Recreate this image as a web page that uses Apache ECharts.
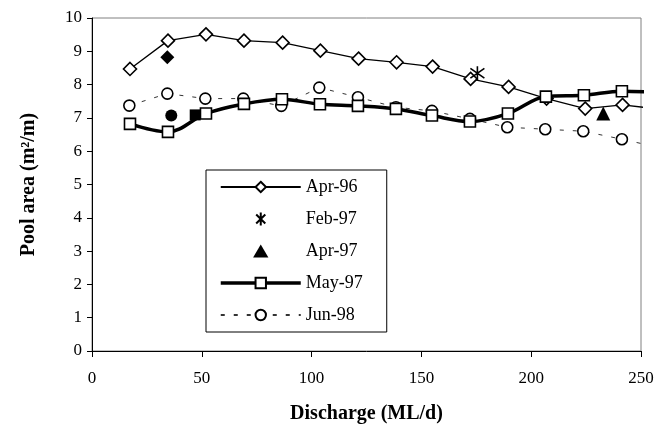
<!DOCTYPE html>
<html><head><meta charset="utf-8">
<script src="https://cdn.jsdelivr.net/npm/echarts@6/dist/echarts.min.js"></script>
<style>html,body{margin:0;padding:0;background:#fff}#c{width:660px;height:433px}</style>
</head><body><div id="c"></div>
<script>
const xApr96 = [17.3, 34.6, 51.9, 69.2, 86.8, 104.0, 121.4, 138.7, 155.1, 172.4, 189.7, 207.0, 224.6, 241.6, 259.0];
const yApr96 = [8.47, 9.32, 9.51, 9.32, 9.26, 9.02, 8.78, 8.67, 8.54, 8.17, 7.93, 7.58, 7.28, 7.39, 7.26];
const xFeb97 = [175.5];
const yFeb97 = [8.34];
const xApr97 = [232.8];
const yApr97 = [7.13];
const xMay97 = [17.3, 34.6, 51.9, 69.2, 86.5, 103.8, 121.1, 138.4, 154.8, 172.1, 189.4, 206.7, 224.0, 241.3, 259.0];
const yMay97 = [6.82, 6.58, 7.13, 7.42, 7.56, 7.41, 7.36, 7.27, 7.07, 6.89, 7.13, 7.64, 7.68, 7.80, 7.76];
const xJun98 = [17.0, 34.3, 51.6, 68.9, 86.2, 103.5, 121.1, 138.4, 154.8, 172.1, 189.1, 206.4, 223.7, 241.3, 259.0];
const yJun98 = [7.37, 7.73, 7.58, 7.58, 7.36, 7.91, 7.62, 7.32, 7.21, 6.97, 6.72, 6.66, 6.60, 6.36, 6.10];
const xExtraDiamond = [34.3], yExtraDiamond = [8.82];
const xExtraCircle = [36.1], yExtraCircle = [7.07];
const xExtraSquare = [47.0], yExtraSquare = [7.09];
const legendNames = ['Apr-96', 'Feb-97', 'Apr-97', 'May-97', 'Jun-98'];
const xTicks = [0, 50, 100, 150, 200, 250];
const yTicks = [0,1,2,3,4,5,6,7,8,9,10];

const zip = (xs, ys) => xs.map((x, i) => [x, ys[i]]);
const F = 'Liberation Serif, Times New Roman, serif';
const asterisk = 'path://M10,0L10,20M3,3L17,17M3,17L17,3';
const tri = 'path://M0,17L10,0L20,17Z';

function legendItem(n) {
  if (n === 'Apr-97') return {name: n, icon: tri};
  if (n === 'May-97') return {name: n, lineStyle: {width: 3.5, color: '#000'}};
  return {name: n};
}

const chart = echarts.init(document.getElementById('c'));
chart.setOption({
  animation: false,
  backgroundColor: '#fff',
  textStyle: {fontFamily: F},
  grid: {left: 92, right: 19, top: 18, bottom: 82, show: true, borderColor: '#808080', borderWidth: 1},
  legend: {
    data: legendNames.map(legendItem),
    orient: 'vertical', left: 206, top: 170,
    padding: [8, 24, 8, 13], itemGap: 14, itemWidth: 80, itemHeight: 13,
    borderColor: '#000', borderWidth: 1, backgroundColor: '#fff',
    textStyle: {fontFamily: F, fontSize: 18, color: '#000'},
  },
  xAxis: {
    type: 'value', min: 0, max: 250, interval: 50,
    name: 'Discharge (ML/d)', nameLocation: 'middle', nameGap: 53,
    nameTextStyle: {fontFamily: F, fontSize: 20, fontWeight: 'bold', color: '#000'},
    axisLine: {lineStyle: {color: '#000', width: 1}},
    axisTick: {show: true, length: 6, lineStyle: {color: '#000'}},
    axisLabel: {fontFamily: F, fontSize: 17, color: '#000', margin: 19,
      formatter: v => xTicks.includes(v) ? String(v) : ''},
    splitLine: {show: false}
  },
  yAxis: {
    type: 'value', min: 0, max: 10, interval: 1,
    name: 'Pool area (m²/m)', nameLocation: 'middle', nameGap: 53,
    nameTextStyle: {fontFamily: F, fontSize: 20, fontWeight: 'bold', color: '#000'},
    axisLine: {show: true, lineStyle: {color: '#000', width: 1}},
    axisTick: {show: true, length: 5, lineStyle: {color: '#000'}},
    axisLabel: {fontFamily: F, fontSize: 17, color: '#000', margin: 10,
      formatter: v => yTicks.includes(v) ? String(v) : ''},
    splitLine: {show: false}
  },
  series: [
    {name: 'Jun-98', type: 'line', data: zip(xJun98, yJun98), clip: true,
      lineStyle: {color: '#333', width: 1, type: [4, 9]},
      symbol: 'circle', symbolSize: 11, showAllSymbol: true,
      itemStyle: {color: '#fff', borderColor: '#000', borderWidth: 1.6, opacity: 1}, z: 2},
    {name: 'Apr-96', type: 'line', data: zip(xApr96, yApr96), clip: true,
      lineStyle: {color: '#000', width: 1.3},
      symbol: 'diamond', symbolSize: [13, 13], showAllSymbol: true,
      itemStyle: {color: '#fff', borderColor: '#000', borderWidth: 1.6, opacity: 1}, z: 3},
    {name: 'May-97', type: 'line', data: zip(xMay97, yMay97), clip: true, smooth: 0.35,
      lineStyle: {color: '#000', width: 3.5},
      symbol: 'rect', symbolSize: 11, showAllSymbol: true,
      itemStyle: {color: '#fff', borderColor: '#000', borderWidth: 1.6, opacity: 1}, z: 4},
    {name: 'Feb-97', type: 'scatter', data: zip(xFeb97, yFeb97),
      symbol: asterisk, symbolSize: 14,
      itemStyle: {color: 'none', borderColor: '#000', borderWidth: 1.6, opacity: 1}, z: 5},
    {name: 'Apr-97', type: 'scatter', data: zip(xApr97, yApr97),
      symbol: 'triangle', symbolSize: 14,
      itemStyle: {color: '#000', opacity: 1}, z: 5},
    {name: 'x1', type: 'scatter', data: zip(xExtraDiamond, yExtraDiamond),
      symbol: 'diamond', symbolSize: 14, itemStyle: {color: '#000', opacity: 1}, z: 5},
    {name: 'x2', type: 'scatter', data: zip(xExtraCircle, yExtraCircle),
      symbol: 'circle', symbolSize: 12, itemStyle: {color: '#000', opacity: 1}, z: 5},
    {name: 'x3', type: 'scatter', data: zip(xExtraSquare, yExtraSquare),
      symbol: 'rect', symbolSize: 11, itemStyle: {color: '#000', opacity: 1}, z: 5}
  ]
});
</script></body></html>
